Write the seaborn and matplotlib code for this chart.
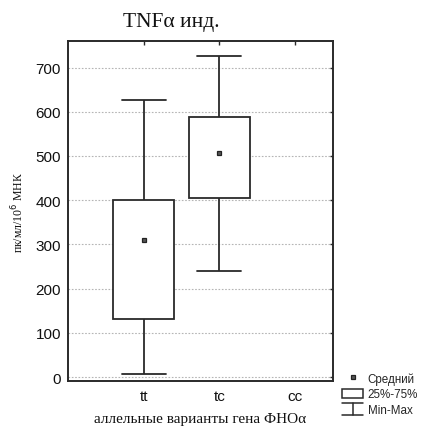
import numpy as np
import pandas as pd
import matplotlib
matplotlib.use("Agg")
import matplotlib.pyplot as plt
import seaborn as sns
from matplotlib.lines import Line2D
from matplotlib.patches import Rectangle
from matplotlib.legend_handler import HandlerBase

# ---- data ----
categories = ["tt", "tc", "cc"]
mins = [7, 240, None]
q1s = [132, 405, None]
q3s = [400, 587, None]
maxs = [627, 727, None]
means = [309, 507, None]

title = "TNF\u03b1 инд."
xlabel = "аллельные варианты гена ФНО\u03b1"
ylabel = "пк/мл/10$^6$ МНК"
yticks = [0, 100, 200, 300, 400, 500, 600, 700]

# long table for seaborn (5 values give exact quartiles with linear percentiles)
rows = []
for c, mn, a, b, mx in zip(categories, mins, q1s, q3s, maxs):
    if mn is None:
        continue
    for v in (mn, a, a, b, mx):
        rows.append({"group": c, "value": v})
df = pd.DataFrame(rows)
mdf = pd.DataFrame({"group": [c for c, m in zip(categories, means) if m is not None],
                    "value": [m for m in means if m is not None]})

sns.set_style("white")
serif = ["Liberation Serif", "DejaVu Serif"]
sans = ["Liberation Sans", "DejaVu Sans"]
plt.rcParams["font.family"] = sans

W, H = 422, 431
fig = plt.figure(figsize=(W / 100, H / 100), dpi=100)
ax = fig.add_axes([68 / W, 1 - 382 / H, (333 - 68) / W, (382 - 42) / H])

lc = "#2a2a2a"
sns.boxplot(data=df, x="group", y="value", order=categories, whis=(0, 100),
            width=0.8, color="white", linecolor=lc, linewidth=1.3,
            medianprops={"linewidth": 0, "alpha": 0},
            capprops={"color": lc}, ax=ax, fill=True,
            boxprops={"facecolor": "white", "edgecolor": lc})
# widen the whisker caps to match the reference
for ln in ax.lines:
    xd = np.asarray(ln.get_xdata(), dtype=float)
    yd = np.asarray(ln.get_ydata(), dtype=float)
    if len(xd) == 2 and yd[0] == yd[1] and xd[0] != xd[1]:
        c = xd.mean()
        if ln.get_linewidth() > 0:
            ln.set_xdata([c - 0.29, c + 0.29])
sns.pointplot(data=mdf, x="group", y="value", order=categories, linestyle="none",
              markers="s", color="#555555", markersize=3.2, errorbar=None,
              markeredgecolor="#222222", markeredgewidth=0.9, ax=ax)

ax.set_xlim(-1, 2.5)
ax.set_ylim(-9, 760)
ax.set_yticks(yticks)
ax.set_xticks(range(len(categories)))
ax.set_xticklabels(categories)
ax.grid(axis="y", linestyle=(0, (1.5, 1.5)), color="#b5b5b5", linewidth=0.8)
ax.set_axisbelow(True)
ax.tick_params(axis="both", direction="in", length=3, width=1, color=lc,
               labelsize=11, top=True, right=True, labelcolor="#111111")
ax.tick_params(axis="y", length=2.5, pad=5)
ax.tick_params(axis="x", pad=6)
for s in ax.spines.values():
    s.set_visible(True)
    s.set_color(lc)
    s.set_linewidth(1.4)

ax.set_xlabel(xlabel, family=serif, fontsize=11, labelpad=6, color="#111111")
ax.set_ylabel(ylabel, family=serif, fontsize=8.5, labelpad=7, color="#111111")
ax.set_title(title, family=serif, fontsize=15.5, pad=11, color="#111111", x=0.39)


class HandlerWhisker(HandlerBase):
    def create_artists(self, legend, orig_handle, xdescent, ydescent, width,
                       height, fontsize, trans):
        cx = width / 2 - xdescent
        top = height * 1.15 - ydescent
        bot = -ydescent - height * 0.1
        hw = width * 0.48
        arts = [Line2D([cx, cx], [bot, top]),
                Line2D([cx - hw, cx + hw], [bot, bot]),
                Line2D([cx - hw, cx + hw], [top, top])]
        for a in arts:
            a.set_color(lc)
            a.set_linewidth(1.1)
            a.set_transform(trans)
        return arts


class WhiskerKey:
    pass


h_mean = Line2D([], [], linestyle="none", marker="s", markersize=3.2,
                markerfacecolor="#555555", markeredgecolor="#222222",
                markeredgewidth=0.9)
h_box = Rectangle((0, 0), 1, 1, facecolor="white", edgecolor=lc, linewidth=1.1)
h_wh = WhiskerKey()
fig.legend([h_mean, h_box, h_wh], ["Средний", "25%-75%", "Min-Max"],
           handler_map={WhiskerKey: HandlerWhisker()},
           loc="lower left", bbox_to_anchor=(342 / W, 14 / H),
           frameon=False, fontsize=8.4, handlelength=1.8, handleheight=0.85,
           handletextpad=0.4, labelspacing=0.32, borderaxespad=0,
           borderpad=0)

fig.savefig("out.png", dpi=100, facecolor="white")
